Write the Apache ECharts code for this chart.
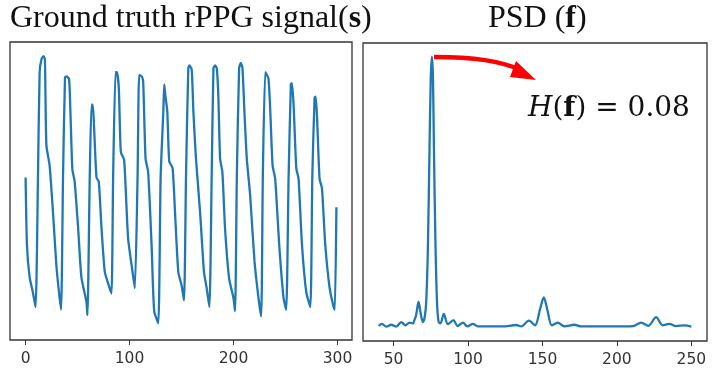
<!DOCTYPE html>
<html>
<head>
<meta charset="utf-8">
<script src="https://cdn.jsdelivr.net/npm/echarts@6/dist/echarts.min.js"></script>
<style>
  html, body { margin: 0; padding: 0; background: #fff; }
  #main { width: 720px; height: 379px; }
</style>
</head>
<body>
<div id="main"></div>
<script>
// ground truth rPPG signal, sample index and amplitude
const sigT = [0, 1.3, 3.9, 7, 9.6, 11.9, 13.5, 15.4, 17.4, 18.6, 20, 23.1, 26.3, 29.6, 32.1, 34.1,
  36, 37.9, 39.2, 41.8, 43.1, 45, 47.2, 50.5, 53.7, 58.5, 59.5,
  61.7, 63.4, 64.6, 65.9, 68.2, 70.4, 73, 76.2, 80, 82.6,
  84.2, 86.5, 87.8, 89.7, 91.6, 94.8, 98.6, 102.9, 105.1,
  107.7, 109.3, 111.6, 113.1, 115.4, 117.9, 121.2, 123.7, 127.6,
  129.9, 132.5, 133.4, 134.4, 136.3, 138.2, 141.4, 143.7, 146.9, 150.1, 152.4,
  154.3, 156.5, 157.5, 159.8, 161.4, 163.9, 167.8, 171.6, 174.2, 176.8,
  179, 180.7, 182.3, 183.9, 185.4, 187.1, 189.3, 191.9, 195.8, 199.9, 201.5,
  203.2, 205.4, 207, 208.6, 210.5, 212.8, 216, 220.2, 224, 226.6,
  228.2, 230.5, 232.1, 233.7, 235.4, 237.6, 240.1, 244, 248.1, 250.7,
  253, 255.2, 256.2, 257.8, 260.4, 262.6, 265.9, 270, 273.9,
  275.8, 278, 279, 280.3, 282.8, 285.1, 288.3, 292.5, 296.3, 297.5, 299];
const sigV = [0.10, -0.40, -0.64, -0.75, -0.86, 0.10, 0.88, 0.98, 1.00, 0.97, 0.34, 0.19, -0.15, -0.55, -0.75, -0.88,
  0.10, 0.84, 0.85, 0.83, 0.59, 0.16, 0.07, -0.27, -0.64, -0.82, -0.92,
  0.10, 0.64, 0.64, 0.47, 0.10, 0.07, -0.27, -0.60, -0.70, -0.76,
  0.10, 0.88, 0.88, 0.76, 0.29, 0.23, -0.35, -0.60, -0.72,
  0.10, 0.86, 0.85, 0.81, 0.24, 0.14, -0.40, -0.89, -0.98,
  0.10, 0.59, 0.79, 0.71, 0.59, 0.22, 0.17, -0.15, -0.60, -0.70, -0.81,
  0.10, 0.91, 0.93, 0.90, 0.59, 0.24, -0.15, -0.60, -0.72, -0.86,
  0.10, 0.91, 0.93, 0.91, 0.71, 0.24, 0.14, -0.28, -0.65, -0.79, -0.89,
  0.10, 0.91, 0.95, 0.91, 0.59, 0.24, -0.03, -0.52, -0.79, -0.93,
  0.10, 0.88, 0.86, 0.83, 0.59, 0.19, 0.09, -0.40, -0.79, -0.88,
  0.10, 0.79, 0.80, 0.64, 0.17, 0.09, -0.40, -0.75, -0.86,
  0.10, 0.69, 0.70, 0.56, 0.09, 0.02, -0.40, -0.72, -0.86, -0.88, -0.12];

// power spectral density, frequency (bpm) and normalised power
const freq = [40, 42.2, 45.1, 48.5, 51.8, 55.2, 58, 60.7, 63, 64.1, 65.2, 66.8, 68.3, 69.7, 71,
  72, 73.1, 74.2, 75, 75.8, 76.5, 77.1, 78.2, 79.3, 80.3, 81.5, 83.8, 86.5, 90.3, 93, 96.6,
  99.5, 103.3, 106.6, 115, 125, 132.4, 135.7, 140.9, 145, 148.5, 150.9, 153.3, 156.3, 160.3,
  164.7, 171.5, 176, 190, 205, 211, 216.2, 221.1, 226.3, 230.8, 235.2, 239.7, 245.3, 250];
const psd = [0.006, 0.013, 0.003, 0.010, 0.003, 0.020, 0.008, 0.018, 0.015, 0.028, 0.046, 0.095, 0.05, 0.02, 0.04,
  0.10, 0.30, 0.67, 0.92, 1.00, 0.92, 0.67, 0.30, 0.08, 0.02, 0.015, 0.05, 0.012, 0.027, 0.005, 0.018,
  0.004, 0.013, 0.004, 0.004, 0.004, 0.009, 0.004, 0.025, 0.008, 0.07, 0.111, 0.065, 0.008, 0.018,
  0.004, 0.01, 0.004, 0.004, 0.004, 0.005, 0.018, 0.006, 0.038, 0.008, 0.013, 0.005, 0.008, 0.003];

const leftTicks = [0, 100, 200, 300];
const rightTicks = [50, 100, 150, 200, 250];

const lineColor = '#1f77b4';
const serif = '"Liberation Serif", "DejaVu Serif", serif';
const mathFont = '"DejaVu Serif", serif';

let chart = echarts.init(document.getElementById('main'));

function xAxisFor(grid, min, max, ticks) {
  return {
    type: 'value',
    gridIndex: grid,
    min: min,
    max: max,
    splitLine: { show: false },
    axisLine: { show: false, onZero: false },
    axisTick: {
      show: true,
      customValues: ticks,
      length: 5,
      lineStyle: { color: '#333', width: 1 }
    },
    axisLabel: {
      customValues: ticks,
      margin: 11,
      fontSize: 15.5,
      color: '#333',
      fontFamily: '"DejaVu Sans", sans-serif'
    }
  };
}

const titleStyle = {
  fontFamily: serif,
  fontSize: 32,
  fontWeight: 'normal',
  color: '#111',
  rich: {
    b: { fontFamily: serif, fontSize: 32, fontWeight: 'bold', color: '#111' }
  }
};

const option = {
  backgroundColor: '#fff',
  animation: false,
  title: [
    { text: 'Ground truth rPPG signal({b|s})', left: 10, top: 3, padding: 0, textStyle: titleStyle },
    { text: 'PSD ({b|f})', left: 488, top: 3, padding: 0, textStyle: titleStyle }
  ],
  grid: [
    { left: 10, top: 42, width: 342, height: 298, show: true, borderColor: '#333', borderWidth: 1.3, backgroundColor: '#fff' },
    { left: 363, top: 43, width: 344, height: 298, show: true, borderColor: '#333', borderWidth: 1.3, backgroundColor: '#fff' }
  ],
  xAxis: [
    xAxisFor(0, -15, 314, leftTicks),
    xAxisFor(1, 29.5, 260.5, rightTicks)
  ],
  yAxis: [
    { type: 'value', gridIndex: 0, min: -1.104, max: 1.104, show: false },
    { type: 'value', gridIndex: 1, min: -0.05, max: 1.05, show: false }
  ],
  series: [
    {
      type: 'line',
      xAxisIndex: 0,
      yAxisIndex: 0,
      data: sigT.map((t, i) => [t, sigV[i]]),
      showSymbol: false,
      smooth: 0.2,
      lineStyle: { color: lineColor, width: 2.3 }
    },
    {
      type: 'line',
      xAxisIndex: 1,
      yAxisIndex: 1,
      data: freq.map((f, i) => [f, psd[i]]),
      showSymbol: false,
      smooth: 0.3,
      lineStyle: { color: lineColor, width: 2.3 }
    }
  ],
  graphic: [
    {
      type: 'bezierCurve',
      shape: { x1: 434, y1: 57, cpx1: 475, cpy1: 57, cpx2: 500, cpy2: 61, x2: 521, y2: 70 },
      style: { stroke: '#ff0000', lineWidth: 4.5, fill: null },
      z: 10
    },
    {
      type: 'polygon',
      shape: { points: [[516, 61], [536, 80], [510, 77]] },
      style: { fill: '#ff0000' },
      z: 10
    },
    {
      type: 'text',
      left: 528,
      top: 95,
      style: {
        text: '{i|H}({b|f}) = 0.08',
        font: '28px ' + mathFont,
        fill: '#111',
        rich: {
          i: { fontFamily: mathFont, fontSize: 28, fontStyle: 'italic', fill: '#111' },
          b: { fontFamily: mathFont, fontSize: 28, fontWeight: 'bold', fill: '#111' }
        }
      },
      z: 10
    }
  ]
};

chart.setOption(option);
</script>
</body>
</html>
